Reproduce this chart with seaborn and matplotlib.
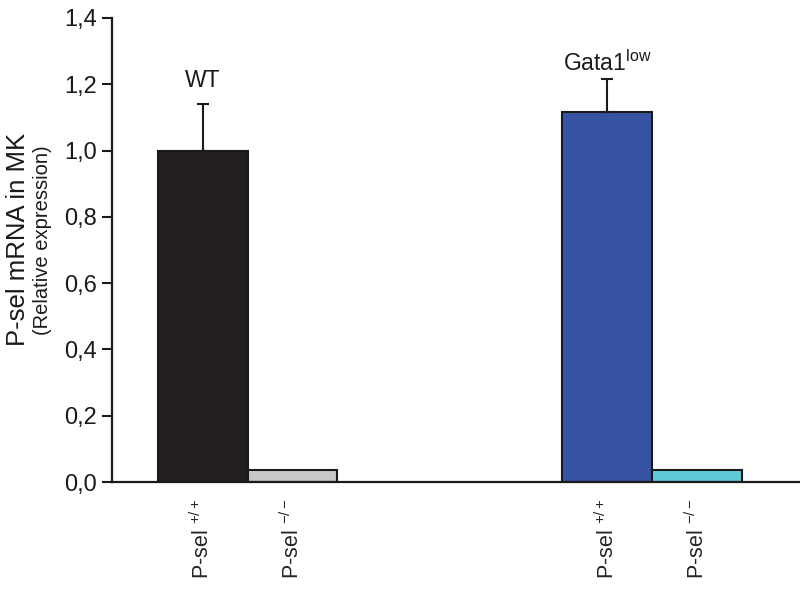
import matplotlib
matplotlib.use("Agg")
import matplotlib.pyplot as plt
import seaborn as sns
import pandas as pd

# Data
groups = ["WT", "WT", "Gata1low", "Gata1low"]
genotypes = ["+/+", "-/-", "+/+", "-/-"]
positions = [0.0, 1.0, 4.5, 5.5]
values = [1.0, 0.036, 1.117, 0.036]
errors = [0.14, 0.0, 0.10, 0.0]
bar_keys = ["WT+/+", "WT-/-", "G+/+", "G-/-"]
bar_colors = ["#231f20", "#c8c8c8", "#3653a4", "#5ecad8"]
tick_labels = [r"P-sel $^{+/+}$", r"P-sel $^{-/-}$", r"P-sel $^{+/+}$", r"P-sel $^{-/-}$"]
yticks = [0.0, 0.2, 0.4, 0.6, 0.8, 1.0, 1.2, 1.4]
ytick_labels = ["0,0", "0,2", "0,4", "0,6", "0,8", "1,0", "1,2", "1,4"]
group_labels = ["WT", r"Gata1$^{\mathrm{low}}$"]
group_label_pos = [0.0, 4.5]
group_label_y = [1.21, 1.265]

sns.set_style("white")
plt.rcParams["font.family"] = ["Liberation Sans", "DejaVu Sans"]
plt.rcParams["mathtext.fontset"] = "custom"
plt.rcParams["mathtext.rm"] = "Liberation Sans"
plt.rcParams["mathtext.it"] = "Liberation Sans"
plt.rcParams["mathtext.default"] = "regular"

df = pd.DataFrame({"pos": positions, "value": values, "key": bar_keys})

fig = plt.figure(figsize=(8, 5.92), dpi=100)
ax = fig.add_axes([0.14, 0.1858, 0.86, 0.7838])

sns.barplot(data=df, x="pos", y="value", hue="key", palette=dict(zip(bar_keys, bar_colors)),
            native_scale=True, width=1.0, dodge=False, saturation=1,
            edgecolor="#1a1a1a", linewidth=1.5, legend=False, ax=ax)

# upper error bars
for p, v, e in zip(positions, values, errors):
    if e > 0:
        ax.errorbar([p], [v], yerr=[[0], [e]], fmt="none", ecolor="#1a1a1a",
                    elinewidth=1.5, capsize=4.5, capthick=1.5)

ax.set_xlim(-1.006, 6.64)
ax.set_ylim(0, 1.4)
ax.set_yticks(yticks)
ax.set_yticklabels(ytick_labels, fontsize=17)
ax.set_xticks(positions)
ax.set_xticklabels(tick_labels, rotation=90, fontsize=15.5)
ax.tick_params(axis="x", length=0, pad=12)
ax.tick_params(axis="y", length=7, width=1.5, direction="out", left=True, pad=4, colors="#1a1a1a")
ax.set_xlabel("")
ax.set_ylabel("")

for s in ["top", "right"]:
    ax.spines[s].set_visible(False)
for s in ["left", "bottom"]:
    ax.spines[s].set_linewidth(1.6)
    ax.spines[s].set_color("#1a1a1a")

# group labels
for gx, gy, gl in zip(group_label_pos, group_label_y, group_labels):
    ax.text(gx, gy, gl, ha="center", va="center", fontsize=16.5, color="#1a1a1a")

# y labels
fig.text(0.0225, 0.595, "P-sel mRNA in MK", rotation=90, ha="center", va="center", fontsize=18.5, color="#1a1a1a")
fig.text(0.053, 0.595, "(Relative expression)", rotation=90, ha="center", va="center", fontsize=14.5, color="#1a1a1a")

fig.savefig("out.png", dpi=100)
